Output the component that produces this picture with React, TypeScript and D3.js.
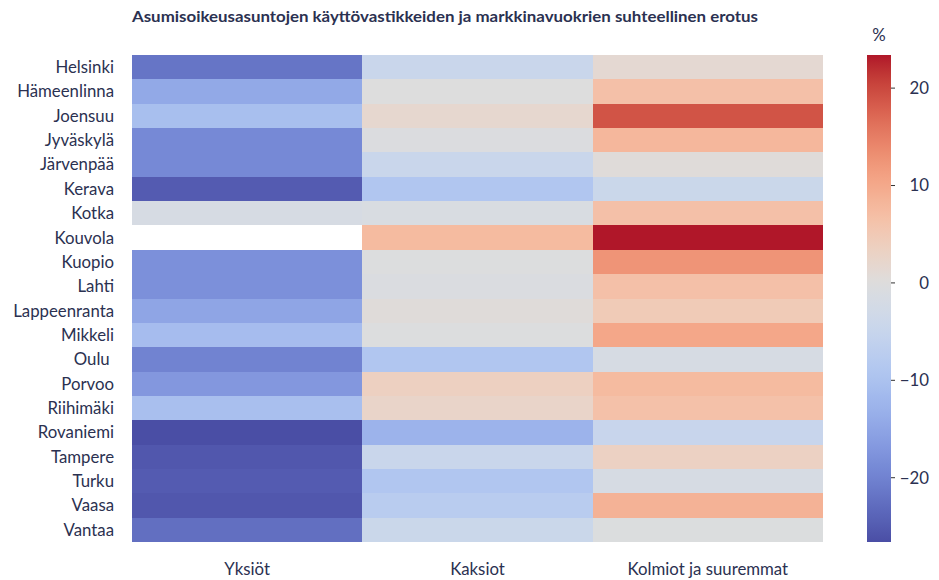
import * as d3 from 'd3'

const WIDTH = 939
const HEIGHT = 580
const MARGIN = { top: 55, left: 132, right: 823, bottom: 542 }
const CBAR = { x: 867, w: 24 }
const TEXT_COLOR = '#2b3151'
const FONT = 'Lato, "Open Sans", sans-serif'
const LABEL_SIZE = 16.8

const TITLE = 'Asumisoikeusasuntojen käyttövastikkeiden ja markkinavuokrien suhteellinen erotus'

const cities = [
  'Helsinki', 'Hämeenlinna', 'Joensuu', 'Jyväskylä', 'Järvenpää', 'Kerava', 'Kotka',
  'Kouvola', 'Kuopio', 'Lahti', 'Lappeenranta', 'Mikkeli', 'Oulu ', 'Porvoo',
  'Riihimäki', 'Rovaniemi', 'Tampere', 'Turku', 'Vaasa', 'Vantaa',
]
const columns = ['Yksiöt', 'Kaksiot', 'Kolmiot ja suuremmat']

// relative difference, % (Kouvola has no value for studios)
const yksiot = [-21.8, -14.4, -10.6, -19, -19, -25, -1.6, null, -18, -18, -15, -11, -20, -17, -10.5, -26.6, -25.5, -25, -25.5, -22.5]
const kaksiot = [-4.5, 0, 1.8, -0.5, -4.5, -9, -1.2, 7.5, -0.3, -0.8, 0.5, -0.2, -9, 3.5, 2.6, -12.8, -4.5, -9, -7.5, -4.3]
const kolmiot = [1.4, 6.6, 19, 8, 0.5, -4.3, 6.6, 23.4, 12.6, 6.6, 4.7, 10.3, -1.6, 7.5, 6.5, -4.8, 3.3, -1.6, 8.8, -0.4]

const cbarTicks = [20, 10, 0, -10, -20]

// matplotlib "coolwarm" (Moreland) sampled at 33 points
const coolwarm = [
  '#3b4cc0', '#445acc', '#4d68d7', '#5775e1', '#6282ea', '#6c8ef1', '#779af7', '#82a5fb',
  '#8db0fe', '#98b9ff', '#a3c2ff', '#aec9fd', '#b8d0f9', '#c2d5f4', '#ccd9ee', '#d5dbe6',
  '#dddddd', '#e5d8d1', '#ecd3c5', '#f1ccb8', '#f5c4ac', '#f7bb9f', '#f7b193', '#f7a686',
  '#f49a7b', '#f18d6f', '#ec7f63', '#e57059', '#de604d', '#d55042', '#cb3e38', '#c0282f',
  '#b40426',
]

// the reference renders a little less saturated than raw coolwarm
const muted = coolwarm.map((c, i) => {
  const h = d3.hcl(c)
  h.c *= i < 16 ? 0.75 : 0.94
  return h.formatHex()
})

export default function App() {
  const series = [yksiot, kaksiot, kolmiot]
  const cells = series.flatMap((vals, ci) =>
    vals.map((v, ri) => ({ city: cities[ri], col: columns[ci], value: v })))

  const [vmin, vmax] = d3.extent(cells.filter(d => d.value != null), d => d.value as number) as [number, number]

  const x = d3.scaleBand().domain(columns).range([MARGIN.left, MARGIN.right])
  const y = d3.scaleBand().domain(cities).range([MARGIN.top, MARGIN.bottom])

  const color = d3.scaleDiverging(d3.piecewise(d3.interpolateRgb, muted))
    .domain([vmin, 0, vmax])

  const cy = d3.scaleLinear().domain([vmin, vmax]).range([MARGIN.bottom, MARGIN.top])
  const stops = d3.range(0, 1.0001, 0.02).map(t => {
    const v = vmax - t * (vmax - vmin)
    return { offset: t, color: color(v) }
  })

  return (
    <svg width={WIDTH} height={HEIGHT} style={{ position: 'absolute', left: 0, top: 0 }}
      fontFamily={FONT}>
      <defs>
        <linearGradient id="cbar" x1="0" y1="0" x2="0" y2="1">
          {stops.map((s, i) => (
            <stop key={i} offset={s.offset} stopColor={s.color} />
          ))}
        </linearGradient>
      </defs>

      <text x={MARGIN.left} y={22} fontSize={15.5} fontWeight="bold" fill={TEXT_COLOR}
        textLength={626} lengthAdjust="spacingAndGlyphs">{TITLE}</text>

      {/* heatmap cells */}
      <g>
        {cells.filter(d => d.value != null).map((d, i) => (
          <rect key={i} x={x(d.col)} y={y(d.city)} width={x.bandwidth()} height={y.bandwidth()}
            fill={color(d.value as number)} shapeRendering="crispEdges" />
        ))}
      </g>

      {/* row labels */}
      <g fontSize={LABEL_SIZE} fill={TEXT_COLOR} textAnchor="end">
        {cities.map(c => (
          <text key={c} x={114} y={(y(c) as number) + y.bandwidth() / 2} dy="0.35em"
            style={{ whiteSpace: 'pre' }}>{c}</text>
        ))}
      </g>

      {/* column labels */}
      <g fontSize={LABEL_SIZE} fill={TEXT_COLOR} textAnchor="middle">
        {columns.map(c => (
          <text key={c} x={(x(c) as number) + x.bandwidth() / 2} y={575}>{c}</text>
        ))}
      </g>

      {/* colorbar */}
      <rect x={CBAR.x} y={MARGIN.top} width={CBAR.w} height={MARGIN.bottom - MARGIN.top}
        fill="url(#cbar)" />
      <g fontSize={LABEL_SIZE} fill={TEXT_COLOR} textAnchor="end">
        {cbarTicks.map(t => (
          <g key={t} transform={`translate(0,${cy(t)})`}>
            <line x1={CBAR.x + CBAR.w} x2={CBAR.x + CBAR.w + 4} stroke="#333" strokeWidth={1} />
            <text x={929} dy="0.35em">{t < 0 ? `−${Math.abs(t)}` : t}</text>
          </g>
        ))}
      </g>
      <text x={879} y={41} fontSize={LABEL_SIZE} fill={TEXT_COLOR} textAnchor="middle">%</text>
    </svg>
  )
}
